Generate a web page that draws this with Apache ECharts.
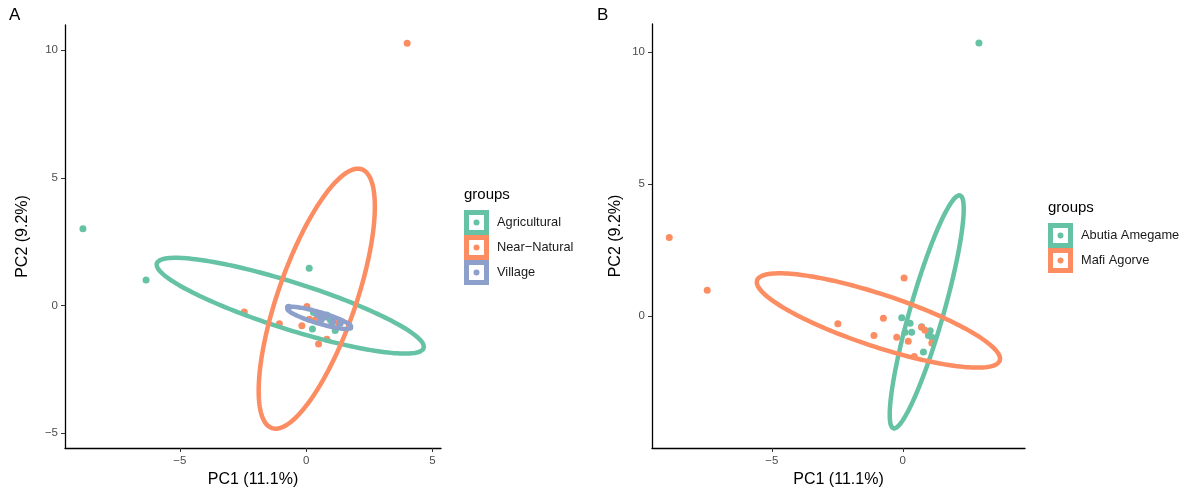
<!DOCTYPE html>
<html>
<head>
<meta charset="utf-8">
<script src="https://cdn.jsdelivr.net/npm/echarts@6/dist/echarts.min.js"></script>
<style>
html, body { margin: 0; padding: 0; background: #fff; }
#main { width: 1184px; height: 490px; }
</style>
</head>
<body>
<div id="main"></div>
<script>
// PCA scores, panel A (land use groups)
var agriA = [[-8.84, 3.00], [-6.34, 1.00], [0.12, 1.46], [0.29, -0.28], [0.25, -0.92], [0.82, -0.37], [0.95, -0.56], [1.02, -0.69], [1.15, -0.98], [0.60, -0.40]];
var nearA = [[4.00, 10.27], [-2.45, -0.26], [-1.06, -0.72], [0.03, -0.04], [-0.17, -0.79], [0.12, -0.54], [0.36, -0.56], [0.49, -1.51], [0.82, -1.32], [1.28, -0.69]];
var villA = [[-0.70, -0.07], [0.45, -0.35], [0.75, -0.45], [1.05, -0.62], [1.35, -0.70], [0.60, -0.55]];

// panel B (sites)
var abutB = [[2.91, 10.33], [-0.04, -0.06], [0.28, -0.27], [0.09, -0.61], [0.34, -0.61], [0.79, -1.36], [0.98, -0.73], [1.11, -0.80], [0.72, -0.40], [1.05, -0.55]];
var mafiB = [[-8.92, 2.97], [-7.47, 0.98], [0.05, 1.44], [-2.48, -0.29], [-0.74, -0.08], [-1.10, -0.73], [-0.23, -0.80], [0.21, -0.95], [0.44, -1.53], [0.72, -0.42], [0.85, -0.54], [1.11, -1.02]];

// ellipses: [cx, cy, semi-major, semi-minor, angle deg]
var ellAgriA = [-0.63, -0.01, 5.54, 0.92, -17.4];
var ellNearA = [0.42, 0.265, 5.37, 1.54, 70.6];
var ellVillA = [0.52, -0.485, 1.34, 0.22, -16.4];
var ellAbutB = [0.915, 0.16, 4.59, 0.64, 73.9];
var ellMafiB = [-0.93, -0.165, 4.88, 0.99, -18.1];

var groupsA = ['Agricultural', 'Near\u2212Natural', 'Village'];
var groupsB = ['Abutia Amegame', 'Mafi Agorve'];
var ticksAx = [-5, 0, 5];
var ticksAy = [-5, 0, 5, 10];
var ticksBx = [-5, 0];
var ticksBy = [0, 5, 10];

var green = '#66C2A5', orange = '#FC8D62', purple = '#8DA0CB';
var font = "'Liberation Sans', Arial, sans-serif";

// legend key: coloured square frame with a dot
var keyIcon = 'path://M0 0H20V20H0Z M4 4V16H16V4Z M7.6 10A2.4 2.4 0 1 0 12.4 10A2.4 2.4 0 1 0 7.6 10Z';

//outline of an ellipse, started on the flat side so the join is not seen
function ellipse(p) {
    var pts = [], th = p[4] * Math.PI / 180;
    for (var i = 0; i <= 180; i++) {
        var t = Math.PI / 2 + i / 180 * 2 * Math.PI;
        var u = p[2] * Math.cos(t), v = p[3] * Math.sin(t);
        pts.push([p[0] + u * Math.cos(th) - v * Math.sin(th), p[1] + u * Math.sin(th) + v * Math.cos(th)]);
    }
    pts.push(pts[1]);
    return pts;
}

function minus(v) {
    return String(v).replace('-', '\u2212');
}

function axis(idx, min, max, ticks, name, gap) {
    return {
        type : 'value',
        gridIndex : idx,
        min : min,
        max : max,
        splitLine : { show : false },
        axisLine : { onZero : false, lineStyle : { color : '#000', width : 1.3 } },
        axisTick : { length : 4, customValues : ticks, lineStyle : { color : '#333' } },
        axisLabel : { customValues : ticks, margin : 7, color : '#4d4d4d', fontSize : 11.5, fontFamily : font, formatter : minus },
        name : name,
        nameLocation : 'middle',
        nameGap : gap,
        nameTextStyle : { color : '#000', fontSize : 16, fontFamily : font }
    };
}

function pts(name, data, color, idx) {
    return { name : name, type : 'scatter', xAxisIndex : idx, yAxisIndex : idx, data : data,
        symbolSize : 7, itemStyle : { color : color, opacity : 1 }, emphasis : { disabled : true } };
}

function ring(name, p, color, idx) {
    return { name : name, type : 'line', xAxisIndex : idx, yAxisIndex : idx, data : ellipse(p),
        showSymbol : false, symbol : 'none', smooth : false, color : color,
        lineStyle : { color : color, width : 4.5, join : 'round' }, emphasis : { disabled : true } };
}

var myChart = echarts.init(document.getElementById('main'), null, { renderer : 'canvas' });

var option = {
    backgroundColor : '#fff',
    animation : false,
    title : [
        { text : 'A', left : 9, top : 7, padding : 0, textStyle : { fontSize : 17, fontWeight : 'normal', color : '#000', fontFamily : font } },
        { text : 'B', left : 597, top : 7, padding : 0, textStyle : { fontSize : 17, fontWeight : 'normal', color : '#000', fontFamily : font } },
        { text : 'groups', left : 464, top : 187, padding : 0, textStyle : { fontSize : 15, fontWeight : 'normal', color : '#000', fontFamily : font } },
        { text : 'groups', left : 1048, top : 200, padding : 0, textStyle : { fontSize : 15, fontWeight : 'normal', color : '#000', fontFamily : font } }
    ],
    grid : [
        { left : 65, top : 25, width : 376, height : 423, outerBoundsMode : 'none', containLabel : false },
        { left : 652, top : 24, width : 373, height : 424, outerBoundsMode : 'none', containLabel : false }
    ],
    xAxis : [
        axis(0, -9.55, 5.34, ticksAx, 'PC1 (11.1%)', 20),
        axis(1, -9.58, 4.67, ticksBx, 'PC1 (11.1%)', 20)
    ],
    yAxis : [
        axis(0, -5.58, 10.98, ticksAy, 'PC2 (9.2%)', 34),
        axis(1, -4.99, 11.05, ticksBy, 'PC2 (9.2%)', 28)
    ],
    legend : [
        { orient : 'vertical', left : 464, top : 210, padding : 0, itemGap : 0, itemWidth : 25, itemHeight : 25,
          itemStyle : { borderWidth : 0 }, selectedMode : false,
          textStyle : { fontSize : 12.8, color : '#1a1a1a', fontFamily : font, padding : [0, 0, 0, 3] },
          data : groupsA.map(function(n) { return { name : n, icon : keyIcon }; }) },
        { orient : 'vertical', left : 1048, top : 223, padding : 0, itemGap : 0, itemWidth : 25, itemHeight : 25,
          itemStyle : { borderWidth : 0 }, selectedMode : false,
          textStyle : { fontSize : 12.8, color : '#1a1a1a', fontFamily : font, padding : [0, 0, 0, 3] },
          data : groupsB.map(function(n) { return { name : n, icon : keyIcon }; }) }
    ],
    series : [
        pts(groupsA[0], agriA, green, 0),
        pts(groupsA[1], nearA, orange, 0),
        pts(groupsA[2], villA, purple, 0),
        ring(groupsA[0], ellAgriA, green, 0),
        ring(groupsA[1], ellNearA, orange, 0),
        ring(groupsA[2], ellVillA, purple, 0),
        pts(groupsB[0], abutB, green, 1),
        pts(groupsB[1], mafiB, orange, 1),
        ring(groupsB[0], ellAbutB, green, 1),
        ring(groupsB[1], ellMafiB, orange, 1)
    ]
};
myChart.setOption(option);
</script>
</body>
</html>
